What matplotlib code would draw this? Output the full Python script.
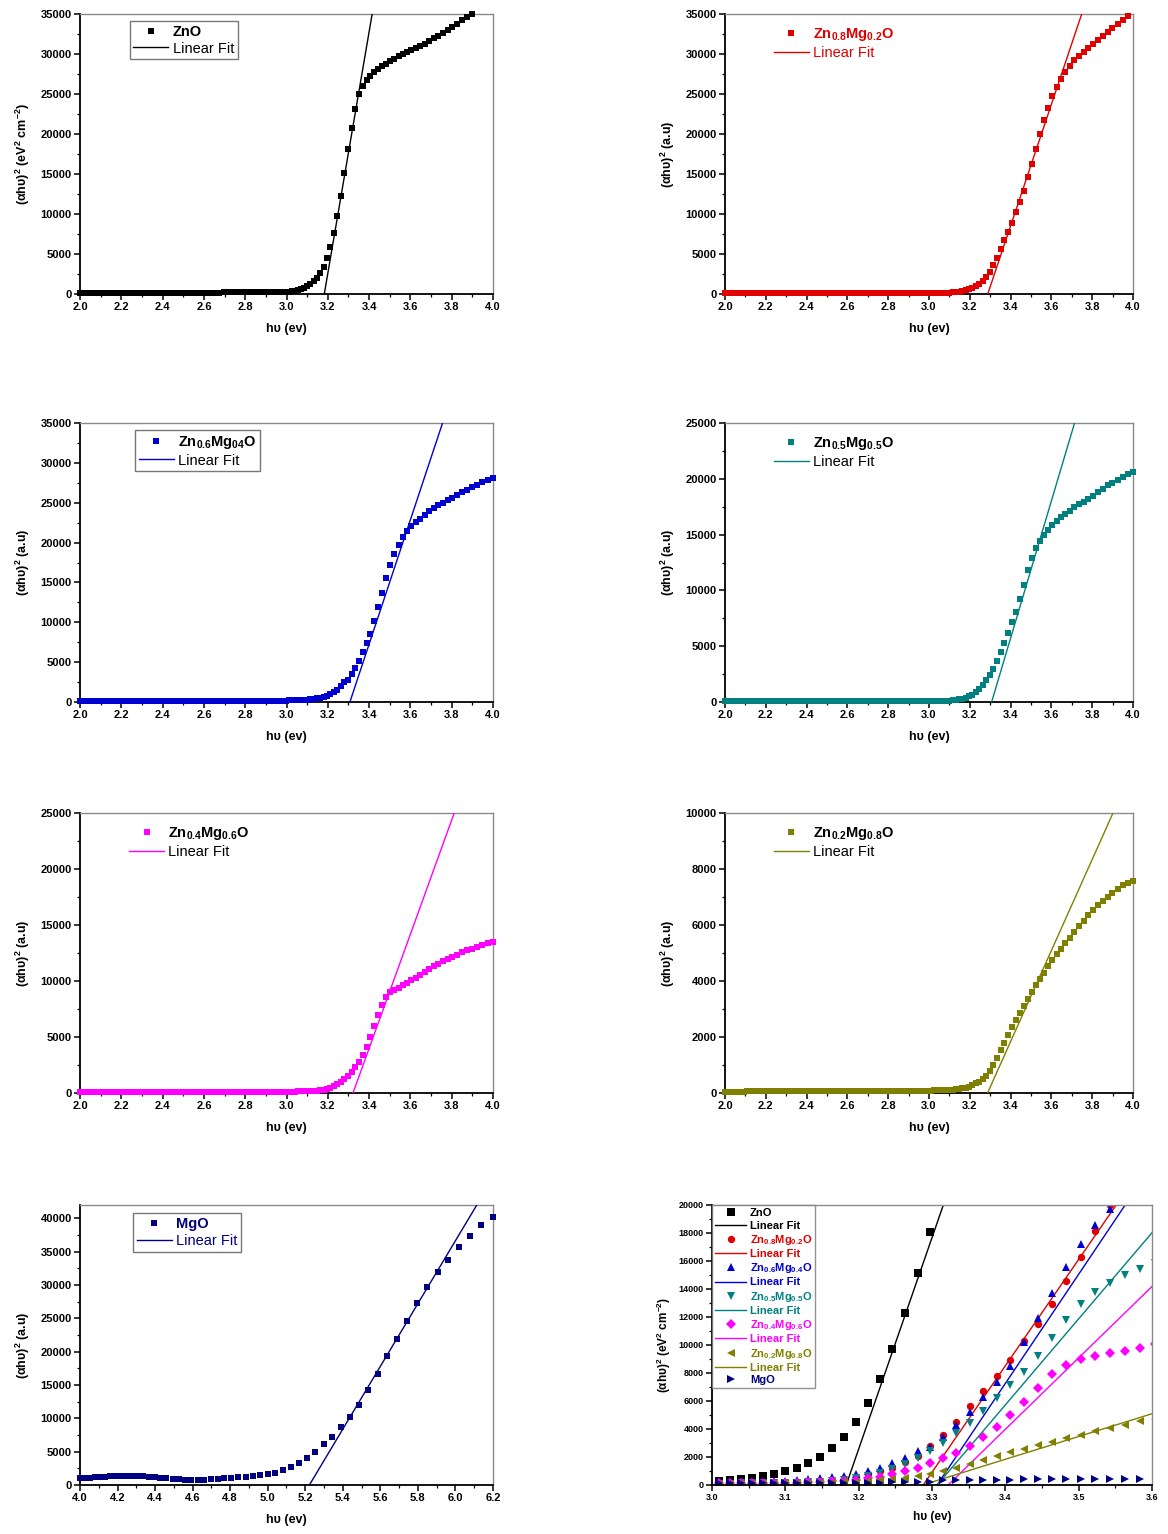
import numpy as np
import matplotlib
matplotlib.use('Agg')
from matplotlib import pyplot as plt
from matplotlib.ticker import MultipleLocator, FormatStrFormatter
from matplotlib.lines import Line2D

plt.rcParams['font.family'] = ['Liberation Sans', 'DejaVu Sans']
plt.rcParams['mathtext.fontset'] = 'custom'
plt.rcParams['mathtext.rm'] = 'Liberation Sans'
plt.rcParams['mathtext.bf'] = 'Liberation Sans:bold'
plt.rcParams['mathtext.default'] = 'bf'

# wavelength grid (nm) -> photon energy (eV)
wl = np.concatenate([np.arange(620, 420, -4), np.arange(420, 308, -2)])
hv = 1240.0 / wl

zno = [100, 100, 105, 105, 110, 110, 110, 115, 115, 120,
       120, 120, 125, 125, 130, 130, 130, 135, 135, 140,
       140, 145, 145, 150, 150, 150, 155, 155, 160, 160,
       165, 165, 170, 170, 175, 175, 180, 180, 185, 185,
       190, 190, 195, 195, 200, 200, 205, 210, 215, 220,
       230, 240, 255, 270, 290, 360, 430, 520, 620, 760,
       1000, 1240, 1600, 2020, 2620, 3400, 4480, 5830, 7570, 9710,
       12290, 15170, 18100, 20800, 23100, 25000, 26000, 26700, 27200, 27700,
       28100, 28500, 28800, 29100, 29400, 29700, 29950, 30200, 30450, 30700,
       31000, 31300, 31650, 31950, 32300, 32650, 33000, 33400, 33800, 34200,
       34600, 35000, 35400, 35800, 36200, 36600]

zn08 = [110, 110, 110, 112, 112, 114, 114, 116, 116, 118,
        118, 120, 120, 120, 122, 122, 124, 124, 126, 126,
        128, 128, 130, 130, 130, 132, 132, 134, 134, 135,
        136, 136, 137, 137, 138, 138, 139, 139, 140, 140,
        140, 141, 141, 142, 142, 143, 143, 144, 144, 145,
        145, 148, 150, 152, 155, 158, 160, 163, 166, 170,
        175, 200, 240, 290, 360, 450, 580, 760, 1000, 1240,
        1670, 2100, 2790, 3570, 4480, 5670, 6690, 7790, 8930, 10310,
        11480, 12930, 14600, 16310, 18170, 20000, 21700, 23200, 24700, 25900,
        26900, 27800, 28500, 29200, 29700, 30300, 30800, 31300, 31800, 32300,
        32800, 33300, 33800, 34300, 34700, 35100]

zn06 = [95, 95, 96, 97, 98, 99, 100, 100, 102, 103,
        104, 105, 106, 107, 108, 109, 110, 111, 112, 113,
        114, 115, 116, 117, 118, 119, 120, 121, 122, 123,
        124, 125, 126, 127, 128, 129, 130, 131, 132, 133,
        134, 135, 136, 137, 138, 139, 140, 142, 144, 146,
        150, 160, 170, 180, 190, 200, 215, 230, 250, 270,
        290, 340, 400, 470, 560, 660, 790, 980, 1250, 1560,
        1950, 2450, 2750, 3450, 4300, 5200, 6300, 7350, 8500, 10200,
        11900, 13700, 15600, 17200, 18600, 19700, 20700, 21500, 22100, 22600,
        23000, 23500, 23900, 24300, 24700, 25000, 25300, 25600, 25950, 26300,
        26600, 26950, 27250, 27550, 27800, 28050]

zn05 = [70, 70, 70, 71, 71, 72, 72, 72, 73, 73,
        74, 74, 74, 75, 75, 76, 76, 76, 77, 77,
        78, 78, 78, 79, 79, 80, 80, 80, 81, 81,
        82, 82, 82, 83, 83, 84, 84, 84, 85, 85,
        85, 86, 86, 86, 87, 87, 87, 88, 88, 88,
        90, 92, 95, 98, 100, 104, 108, 112, 118, 124,
        130, 160, 200, 250, 310, 390, 500, 650, 880, 1150,
        1500, 1950, 2400, 3000, 3700, 4450, 5300, 6200, 7150, 8100,
        9250, 10500, 11800, 12900, 13800, 14450, 15000, 15450, 15850, 16200,
        16550, 16850, 17150, 17450, 17700, 17950, 18200, 18500, 18800, 19100,
        19400, 19650, 19900, 20150, 20400, 20650]

zn04 = [70, 70, 71, 71, 72, 72, 73, 73, 74, 74,
        75, 75, 76, 76, 77, 77, 78, 78, 79, 79,
        80, 80, 81, 81, 82, 82, 83, 83, 84, 84,
        85, 85, 86, 86, 87, 87, 88, 88, 89, 89,
        90, 90, 91, 92, 93, 94, 95, 96, 97, 98,
        100, 105, 110, 115, 120, 125, 130, 135, 140, 145,
        150, 170, 190, 220, 260, 310, 380, 470, 600, 780,
        1000, 1250, 1550, 1900, 2300, 2800, 3400, 4150, 5000, 5950,
        6950, 7900, 8600, 9000, 9200, 9400, 9600, 9800, 10050, 10300,
        10550, 10800, 11050, 11300, 11550, 11750, 11950, 12150, 12350, 12550,
        12750, 12900, 13050, 13200, 13350, 13450]

zn02 = [50, 50, 51, 51, 52, 52, 53, 53, 54, 54,
        55, 55, 56, 56, 57, 57, 58, 58, 59, 59,
        60, 60, 61, 61, 62, 62, 63, 63, 64, 64,
        65, 65, 66, 66, 67, 67, 68, 68, 69, 69,
        70, 70, 70, 71, 71, 72, 72, 73, 73, 74,
        75, 78, 80, 83, 86, 90, 94, 98, 102, 106,
        110, 120, 135, 150, 170, 195, 230, 280, 340, 410,
        500, 620, 790, 1000, 1250, 1520, 1800, 2080, 2350, 2600,
        2850, 3100, 3350, 3600, 3850, 4080, 4300, 4550, 4750, 4950,
        5150, 5350, 5550, 5750, 5950, 6150, 6350, 6550, 6700, 6850,
        7000, 7150, 7300, 7420, 7500, 7580]

# MgO measured on its own range (panel) and in the 3.0-3.6 eV window (overlay)
mgo_wl = np.arange(200, 312, 2)
mgo = [40250, 38950, 37350, 35700, 33750, 31900, 29700, 27300, 24650, 21950,
       19300, 16650, 14300, 12000, 10250, 8650, 7250, 6100, 5000, 4000,
       3350, 2750, 2250, 1850, 1600, 1450, 1350, 1250, 1150, 1050,
       980, 900, 850, 800, 780, 780, 800, 830, 900, 980,
       1080, 1180, 1250, 1300, 1330, 1350, 1350, 1350, 1330, 1300,
       1260, 1220, 1170, 1120, 1060, 1000]
mgo_wl_low = np.arange(346, 416, 2)
mgo_low = [420, 415, 410, 410, 405, 400, 400, 395, 395, 390,
           390, 385, 380, 370, 330, 250, 210, 190, 180, 175,
           170, 170, 165, 165, 160, 160, 155, 155, 150, 150,
           150, 145, 145, 140, 140]

# linear fit: onset energy (eV) and slope
fit_eg = [3.183, 3.288, 3.307, 3.307, 3.322, 3.287, 5.222]
fit_slope = [151000, 76000, 78000, 61500, 51000, 16260, 47100]

labels = ['ZnO', r'Zn$_{0.8}$Mg$_{0.2}$O', r'Zn$_{0.6}$Mg$_{04}$O',
          r'Zn$_{0.5}$Mg$_{0.5}$O', r'Zn$_{0.4}$Mg$_{0.6}$O',
          r'Zn$_{0.2}$Mg$_{0.8}$O', 'MgO']
combo_labels = ['ZnO', r'Zn$_{0.8}$Mg$_{0.2}$O', r'Zn$_{0.6}$Mg$_{0.4}$O',
                r'Zn$_{0.5}$Mg$_{0.5}$O', r'Zn$_{0.4}$Mg$_{0.6}$O',
                r'Zn$_{0.2}$Mg$_{0.8}$O', 'MgO']
colors = ['#000000', '#e00000', '#0000d0', '#008080', '#ff00ff', '#808000', '#000080']
markers = ['s', 'o', '^', 'v', 'D', '<', '>']

ylab_au = r'(αhυ)$^2$ (a.u)'
ylab_ev = r'(αhυ)$^2$ (eV$^2$ cm$^{-2}$)'

W, H = 1168, 1534
fig = plt.figure(figsize=(W / 100, H / 100), dpi=100)


def px_axes(x0, y0, x1, y1):
    return fig.add_axes([x0 / W, 1 - y1 / H, (x1 - x0) / W, (y1 - y0) / H])


def style(ax, xstep, ystep, xfmt='%.1f', tsize=8):
    for s in ['top', 'right']:
        ax.spines[s].set_color('#8a8a8a')
        ax.spines[s].set_linewidth(1.0)
    for s in ['left', 'bottom']:
        ax.spines[s].set_linewidth(1.3)
    ax.xaxis.set_major_locator(MultipleLocator(xstep))
    ax.xaxis.set_minor_locator(MultipleLocator(xstep / 2))
    ax.yaxis.set_major_locator(MultipleLocator(ystep))
    ax.yaxis.set_minor_locator(MultipleLocator(ystep / 2))
    ax.xaxis.set_major_formatter(FormatStrFormatter(xfmt))
    ax.tick_params(which='major', direction='out', length=4, width=1.1,
                   labelsize=tsize, pad=2)
    ax.tick_params(which='minor', direction='out', length=2.5, width=0.9)
    for t in ax.get_xticklabels() + ax.get_yticklabels():
        t.set_fontweight('bold')


def single_panel(rect, i, x, y, xlim, ylim, ystep, ylabel, leg_xy, frame, text_color):
    ax = px_axes(*rect)
    x = np.asarray(x)
    y = np.asarray(y)
    keep = (y <= ylim[1]) & (x >= xlim[0]) & (x <= xlim[1])
    ax.plot(x[keep], y[keep], 's', color=colors[i], ms=4.6, mew=0, label=labels[i],
            clip_on=False, zorder=3)
    xs = np.array([fit_eg[i], fit_eg[i] + ylim[1] * 1.1 / fit_slope[i]])
    ax.plot(xs, fit_slope[i] * (xs - fit_eg[i]), '-', color=colors[i], lw=1,
            label='Linear Fit', zorder=4)
    ax.set_xlim(*xlim)
    ax.set_ylim(*ylim)
    style(ax, 0.2, ystep)
    ax.set_xlabel('hυ (ev)', fontsize=9, fontweight='bold', labelpad=8)
    ax.set_ylabel(ylabel, fontsize=9, fontweight='bold', labelpad=6)
    leg = ax.legend(loc='upper left', bbox_to_anchor=leg_xy, borderaxespad=0,
                    fontsize=10.5, frameon=frame, fancybox=False, handlelength=2.4,
                    handletextpad=0.3, labelspacing=0.2, borderpad=0.25,
                    markerscale=1.0)
    if frame:
        leg.get_frame().set_edgecolor('#555555')
        leg.get_frame().set_linewidth(1.0)
    txt = leg.get_texts()
    txt[0].set_fontweight('bold')
    for t in txt:
        t.set_color(text_color)
    return ax


L0, L1, R0, R1 = 80, 493, 725, 1133
rows = [(14, 294), (423, 702), (813, 1093), (1205, 1485)]
xr = (2.0, 4.0)

single_panel((L0, rows[0][0], L1, rows[0][1]), 0, hv, zno, xr, (0, 35000), 5000,
             ylab_ev, (0.12, 0.975), True, 'black')
single_panel((R0, rows[0][0], R1, rows[0][1]), 1, hv, zn08, xr, (0, 35000), 5000,
             ylab_au, (0.11, 0.97), False, colors[1])
single_panel((L0, rows[1][0], L1, rows[1][1]), 2, hv, zn06, xr, (0, 35000), 5000,
             ylab_au, (0.133, 0.975), True, 'black')
single_panel((R0, rows[1][0], R1, rows[1][1]), 3, hv, zn05, xr, (0, 25000), 5000,
             ylab_au, (0.11, 0.97), False, 'black')
single_panel((L0, rows[2][0], L1, rows[2][1]), 4, hv, zn04, xr, (0, 25000), 5000,
             ylab_au, (0.11, 0.97), False, 'black')
single_panel((R0, rows[2][0], R1, rows[2][1]), 5, hv, zn02, xr, (0, 10000), 2000,
             ylab_au, (0.11, 0.97), False, 'black')
single_panel((L0, rows[3][0], L1, rows[3][1]), 6, 1240.0 / mgo_wl, mgo, (4.0, 6.2),
             (0, 42000), 5000, ylab_au, (0.128, 0.97), True, colors[6])

# overlay of all samples near the edge
ax = px_axes(712, 1205, 1152, 1485)
series = [zno, zn08, zn06, zn05, zn04, zn02]
handles = []
for i, y in enumerate(series):
    ms = 4.8 if markers[i] == 'D' else 5.3
    ax.plot(hv, y, markers[i], color=colors[i], ms=ms, mew=0)
    xs = np.array([fit_eg[i], fit_eg[i] + 22000 / fit_slope[i]])
    ax.plot(xs, fit_slope[i] * (xs - fit_eg[i]), '-', color=colors[i], lw=1)
    handles.append(Line2D([], [], ls='none', marker=markers[i], color=colors[i],
                          ms=ms, mew=0, label=combo_labels[i]))
    handles.append(Line2D([], [], color=colors[i], lw=1, label='Linear Fit'))
ax.plot(1240.0 / mgo_wl_low, mgo_low, '>', color=colors[6], ms=5.3, mew=0)
handles.append(Line2D([], [], ls='none', marker='>', color=colors[6], ms=5.3, mew=0,
                      label=combo_labels[6]))
ax.set_xlim(3.0, 3.6)
ax.set_ylim(0, 20000)
style(ax, 0.1, 2000, tsize=6.5)
ax.set_xlabel('hυ (ev)', fontsize=8.5, fontweight='bold', labelpad=6)
ax.set_ylabel(ylab_ev, fontsize=8.5, fontweight='bold', labelpad=4)
leg = ax.legend(handles=handles, loc='upper left', bbox_to_anchor=(0, 1),
                borderaxespad=0, fontsize=8, frameon=True, fancybox=False,
                handlelength=2.8, handletextpad=0.3, labelspacing=0.2,
                borderpad=0.3)
leg.get_frame().set_edgecolor('#777777')
for t, h in zip(leg.get_texts(), handles):
    t.set_color(h.get_color())
    t.set_fontweight('bold')

fig.savefig('out.png', dpi=100)
